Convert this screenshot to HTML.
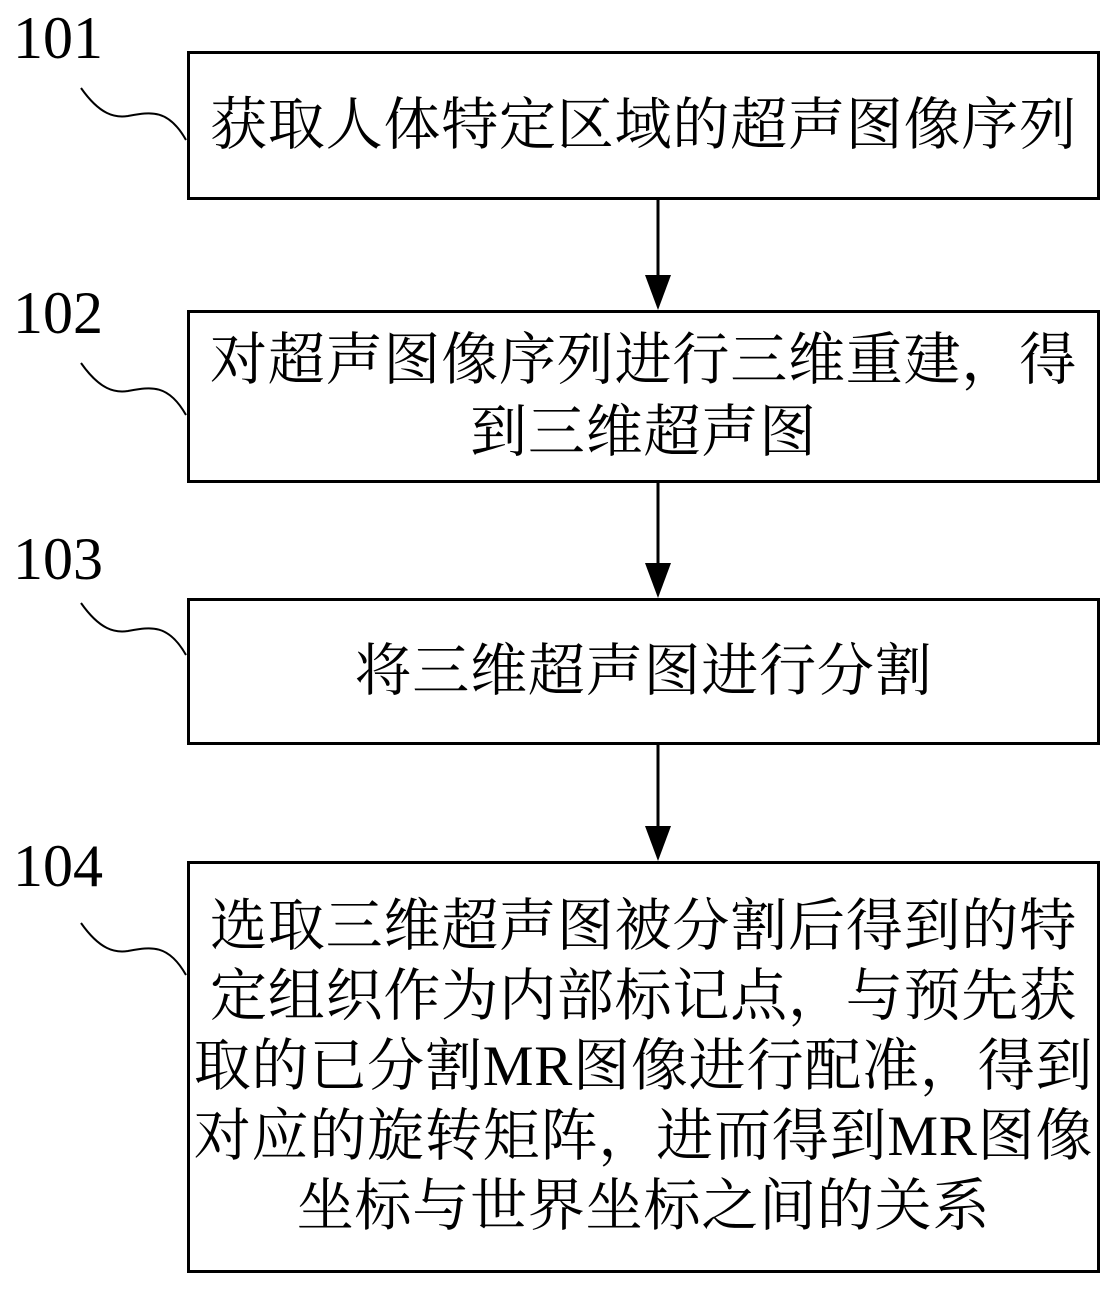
<!DOCTYPE html>
<html><head><meta charset="utf-8"><style>
body{margin:0;width:1117px;height:1289px;background:#fff;position:relative;overflow:hidden;font-family:"Liberation Serif","Noto Serif CJK SC",serif;color:#000}
.b{position:absolute;left:187px;width:907px;border:3px solid #000;box-sizing:content-box;display:flex;align-items:center;justify-content:center;text-align:center;font-size:57px;letter-spacing:0.8px;white-space:nowrap}
.l{position:absolute;left:13px;font-size:60px;line-height:60px}
</style></head><body>
<div class="l" style="top:8px">101</div>
<div class="l" style="top:283px">102</div>
<div class="l" style="top:529px">103</div>
<div class="l" style="top:836px">104</div>
<div class="b" style="top:51px;height:143px;line-height:70px">获取人体特定区域的超声图像序列</div>
<div class="b" style="top:310px;height:167px;line-height:72px">对超声图像序列进行三维重建，得<br>到三维超声图</div>
<div class="b" style="top:598px;height:141px;line-height:70px">将三维超声图进行分割</div>
<div class="b" style="top:861px;height:406px;line-height:70px">选取三维超声图被分割后得到的特<br>定组织作为内部标记点，与预先获<br>取的已分割MR图像进行配准，得到<br>对应的旋转矩阵，进而得到MR图像<br>坐标与世界坐标之间的关系</div>
<svg width="1117" height="1289" style="position:absolute;left:0;top:0" fill="none" stroke="#000" stroke-width="2">
<path d="M81,88 C100,115 115,118 128,116 C150,112 168,108 186,140"/>
<path d="M81,363 C100,390 115,393 128,391 C150,387 168,383 186,415"/>
<path d="M81,603 C100,630 115,633 128,631 C150,627 168,623 186,655"/>
<path d="M81,923 C100,950 115,953 128,951 C150,947 168,943 186,975"/>
<g stroke-width="3"><line x1="658" y1="200" x2="658" y2="280"/><line x1="658" y1="482" x2="658" y2="568"/><line x1="658" y1="744" x2="658" y2="830"/></g>
<g fill="#000" stroke="none"><polygon points="645,275 671,275 658,310"/><polygon points="645,563 671,563 658,598"/><polygon points="645,826 671,826 658,861"/></g>
</svg>
</body></html>
